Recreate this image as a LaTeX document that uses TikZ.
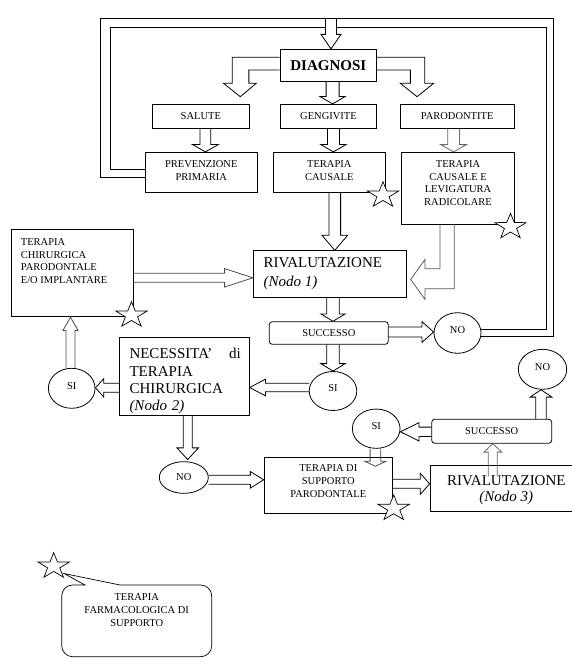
\documentclass[tikz,border=0pt]{standalone}
\usepackage{fontspec}
\setmainfont{Liberation Serif}
\usetikzlibrary{calc,shapes.geometric}
\newcommand\smallfnt{\fontsize{10.5}{12.7}\selectfont}
\newcommand\bigfnt{\fontsize{15}{17.2}\selectfont}
\tikzset{
  shaftw/.store in=\hsw, headw/.store in=\hhw, headl/.store in=\hhl,
  box/.style={draw, rectangle, inner sep=0pt, line width=0.8pt},
  rbox/.style={box, rounded corners=3pt},
  circ/.style={draw, ellipse, inner sep=0pt, line width=0.8pt, font=\smallfnt, text depth=5pt},
  txt/.style={inner sep=0pt, font=\smallfnt, align=center},
  harr/.style={line width=0.8pt, line join=miter},
  loopline/.style={line width=0.8pt},
  starsty/.style={draw, fill=white, line width=0.7pt},
  callsty/.style={draw, line width=0.7pt},
}
\newcommand\harrow[3][]{%
  \path (#2) coordinate (hArrA);
  \path (#3) coordinate (hArrB);
  \pgfpointdiff{\pgfpointanchor{hArrA}{center}}{\pgfpointanchor{hArrB}{center}}%
  \pgfgetlastxy{\hdx}{\hdy}%
  \pgfmathveclen{\hdx}{\hdy}\let\hlen\pgfmathresult
  \pgfmathparse{atan2(\hdy,\hdx)}\let\hang\pgfmathresult
  \begin{scope}[shift={(hArrA)},rotate=\hang,shaftw=5,headw=10,headl=8,#1]
    \draw[harr] (0pt,\hsw pt) -- ({\hlen pt-\hhl pt},\hsw pt) -- ({\hlen pt-\hhl pt},\hhw pt) -- (\hlen pt,0pt) -- ({\hlen pt-\hhl pt},-\hhw pt) -- ({\hlen pt-\hhl pt},-\hsw pt) -- (0pt,-\hsw pt);
  \end{scope}}
\newcommand\drawstar[1]{%
  \draw[starsty,shift={#1},yscale=0.82] (90:16.5pt) \foreach \a/\r in {126/6.4,162/16.5,198/6.4,234/16.5,270/6.4,306/16.5,342/6.4,378/16.5,414/6.4}{ -- (\a:\r pt)} -- cycle;}
\begin{document}
\begin{tikzpicture}[x=1pt,y=-1pt]
\useasboundingbox (0,0) rectangle (571,668);
% boxes
\node[box, minimum width=96.7pt, minimum height=32pt, font=\bfseries\fontsize{15}{17}\selectfont] (diag) at (328.3,65.3) {DIAGNOSI};
\node[box, minimum width=97pt, minimum height=24pt, font=\smallfnt] (salute) at (200.8,116.3) {SALUTE};
\node[box, minimum width=96.4pt, minimum height=24pt, font=\smallfnt] (geng) at (328.5,116.3) {GENGIVITE};
\node[box, minimum width=114.3pt, minimum height=24pt, font=\smallfnt] (paro) at (457.2,116.3) {PARODONTITE};
\node[box, minimum width=112pt, minimum height=40pt] (prev) at (201.3,172.3) {};
\node[txt, anchor=north] (prevT) at (201.3,160.5) {PREVENZIONE\\PRIMARIA};
\node[box, minimum width=112pt, minimum height=40pt] (tcaus) at (329.3,172.3) {};
\node[txt, anchor=north] (tcausT) at (329.3,160.5) {TERAPIA\\CAUSALE};
\node[box, minimum width=113pt, minimum height=71.7pt] (levig) at (457.8,188.2) {};
\node[txt, anchor=north] (levigT) at (458,160.2) {TERAPIA\\CAUSALE E\\LEVIGATURA\\RADICOLARE};
\node[box, minimum width=121.6pt, minimum height=87.4pt] (chir) at (72.5,273) {};
\node[txt, anchor=north west, align=left] (chirT) at (20.7,238.2) {TERAPIA\\CHIRURGICA\\PARODONTALE\\E/O IMPLANTARE};
\node[box, minimum width=153.4pt, minimum height=46.6pt] (rival1) at (330,274) {};
\node[txt, anchor=north west, align=left, font=\fontsize{15}{19.4}\selectfont] (rival1T) at (263.3,257.3) {RIVALUTAZIONE\\\textit{(Nodo 1)}};
\node[rbox, minimum width=119pt, minimum height=22.6pt, font=\smallfnt] (succ1) at (328.8,333) {SUCCESSO};
\node[circ, minimum width=47pt, minimum height=40.6pt] (no1) at (457.5,333) {NO};
\node[circ, minimum width=47.6pt, minimum height=39pt] (si1) at (333,391) {SI};
\node[box, minimum width=130pt, minimum height=77.7pt] (nec) at (184.3,376.2) {};
\node[txt, anchor=north west, align=left, text width=111.4pt, font=\bigfnt] (necT) at (129.3,348.3) {NECESSITA’\hfill di\\TERAPIA\\CHIRURGICA\\\textit{(Nodo 2)}};
\node[circ, minimum width=46.7pt, minimum height=40pt] (sil) at (71.7,388.3) {SI};
\node[circ, minimum width=49pt, minimum height=31.7pt, text depth=0pt] (no2) at (183.8,477.5) {NO};
\node[box, minimum width=128.3pt, minimum height=56pt] (supp) at (328.2,485.3) {};
\node[txt, anchor=north, font=\fontsize{10.5}{13}\selectfont] (suppT) at (328.3,464.8) {TERAPIA DI\\SUPPORTO\\PARODONTALE};
\node[box, minimum width=152pt, minimum height=46pt] (rival3) at (506,488.7) {};
\node[txt, anchor=north, font=\fontsize{15}{16.7}\selectfont] (rival3T) at (506.3,475) {RIVALUTAZIONE\\\textit{(Nodo 3)}};
\node[rbox, minimum width=120pt, minimum height=24pt, font=\smallfnt] (succ2) at (491.7,431.3) {SUCCESSO};
\node[circ, minimum width=47.7pt, minimum height=39.3pt] (si2) at (376.2,428.7) {SI};
\node[circ, minimum width=48.4pt, minimum height=40pt] (no3) at (542.5,369.3) {NO};
\node[txt, anchor=north] (callT) at (136.7,593.8) {TERAPIA\\FARMACOLOGICA DI\\SUPPORTO};
% feedback loop
\coordinate (loopTop) at (331,18.7);
\draw[loopline] ($(prev.west)+(0,-3)$) -- (110.7,169.3) -- (110.7,27) -- (325.5,27);
\draw[loopline] (336.5,27) -- (546,27) -- (546,329) -- ($(no1.east)+(0,-4)$);
\draw[loopline] ($(prev.west)+(0,5)$) -- (100.7,177.3) -- (100.7,18.7) -- (553,18.7) -- (553,336) -- ($(no1.east)+(0,3)$);
% straight hollow arrows
\harrow[shaftw=5.5,headw=10,headl=14.5]{loopTop}{$(diag.north)+(2.7,0)$}
\harrow[shaftw=6.5,headw=12.5,headl=7.3]{$(diag.south)+(4.3,0)$}{$(geng.north)+(4.1,0)$}
\harrow[shaftw=5.4,headw=12.8,headl=7.3]{$(salute.south)+(4.6,0)$}{$(prev.north)+(4.1,0)$}
\harrow[shaftw=6,headw=12.5,headl=7.3]{$(geng.south)+(4.9,0)$}{$(tcaus.north)+(4.1,0)$}
\harrow[shaftw=5.8,headw=12.8,headl=7.3,color=black!60]{$(paro.south)+(-3.6,0)$}{$(levig.north)+(-4.2,0)$}
\harrow[shaftw=5.8,headw=12.8,headl=15]{$(tcaus.south)+(5.5,0)$}{$(rival1.north)+(4.8,0)$}
\harrow[shaftw=4.5,headw=9.2,headl=28.3,color=black!70]{$(chir.east)+(0,4.8)$}{$(rival1.west)+(0,3.8)$}
\harrow[shaftw=6.3,headw=12.2,headl=7.4]{$(rival1.south)+(3,0)$}{$(succ1.north)+(4.2,0)$}
\harrow[shaftw=5,headw=10.3,headl=11.6]{$(succ1.east)+(0,-1)$}{$(no1.west)+(0,-1)$}
\harrow[shaftw=6.3,headw=12.2,headl=7.5]{$(succ1.south)+(4.2,0)$}{si1.north}
\harrow[shaftw=4.2,headw=8.3,headl=15.7]{$(si1.west)+(0,-3.5)$}{$(nec.east)+(0,11.3)$}
\harrow[shaftw=4.5,headw=9.2,headl=8.3]{$(nec.west)+(0,11.6)$}{$(sil.east)+(0,-0.5)$}
\harrow[shaftw=4.5,headw=7.5,headl=13.3,color=black!70]{$(sil.north)+(-1.2,0)$}{$(chir.south)+(-2,0)$}
\harrow[shaftw=4.5,headw=10.8,headl=11.7]{$(nec.south)+(3.4,0)$}{$(no2.north)+(3.9,-1.7)$}
\harrow[shaftw=4.5,headw=8.3,headl=13.3]{$(no2.east)+(0,2.3)$}{$(supp.west)+(0,-5.5)$}
\harrow[shaftw=4.5,headw=10.5,headl=9.3]{$(supp.east)+(0,-1.5)$}{$(rival3.west)+(0,-4.9)$}
\harrow[shaftw=4.5,headw=8.8,headl=8.4,color=black!60]{$(rival3.north)+(-13.2,11.3)$}{$(succ2.south)+(1.1,0)$}
\harrow[shaftw=4.7,headw=9.2,headl=18.6]{$(succ2.west)+(0,0.5)$}{$(si2.east)+(0,3.1)$}
\harrow[shaftw=5.3,headw=10.5,headl=5,color=black!70]{$(si2.south)+(-0.8,0)$}{$(supp.north)+(47.2,9.4)$}
\harrow[shaftw=5.3,headw=10.8,headl=7.4]{$(succ2.north)+(49.3,0)$}{$(no3.south)+(-1.5,0)$}
% elbow hollow arrows
\draw[harr] ($(diag.west)+(0,-8)$) -- ++(-47.3,0) -- ++(0,26) -- ++(-8.7,0) -- ++(16.7,13.4) -- ++(16,-13.4) -- ++(-7.4,0) -- ++(0,-13.3) -- ($(diag.west)+(0,4.7)$);
\draw[harr] ($(diag.east)+(0,-8)$) -- ++(47.6,0) -- ++(0,26) -- ++(9,0) -- ++(-16.6,13.4) -- ++(-16.7,-13.4) -- ++(10,0) -- ++(0,-13.3) -- ($(diag.east)+(0,4.7)$);
\draw[harr,black!65] ($(levig.south)+(-17.8,0)$) -- ++(0,44.3) -- ++(-15,0) -- ++(0,-9.3) -- ++(-14.3,20) -- ++(14.3,20) -- ++(0,-10.7) -- ++(29.3,0) -- ($(levig.south)+(-3.5,0)$);
% callout
\draw[callsty] (85,585) -- (64,573.5) -- (120,585) -- (200.7,585)
  arc[start angle=90,end angle=0,radius=11pt] -- (211.7,645.7)
  arc[start angle=0,end angle=-90,radius=11pt] -- (72.7,656.7)
  arc[start angle=270,end angle=180,radius=11pt] -- (61.7,596)
  arc[start angle=180,end angle=90,radius=11pt] -- cycle;
% stars
\drawstar{(383,195.2)}
\drawstar{(510.5,226.8)}
\drawstar{(131.5,315.2)}
\drawstar{(393.7,508.5)}
\drawstar{(53.7,566.2)}
\end{tikzpicture}
\end{document}
